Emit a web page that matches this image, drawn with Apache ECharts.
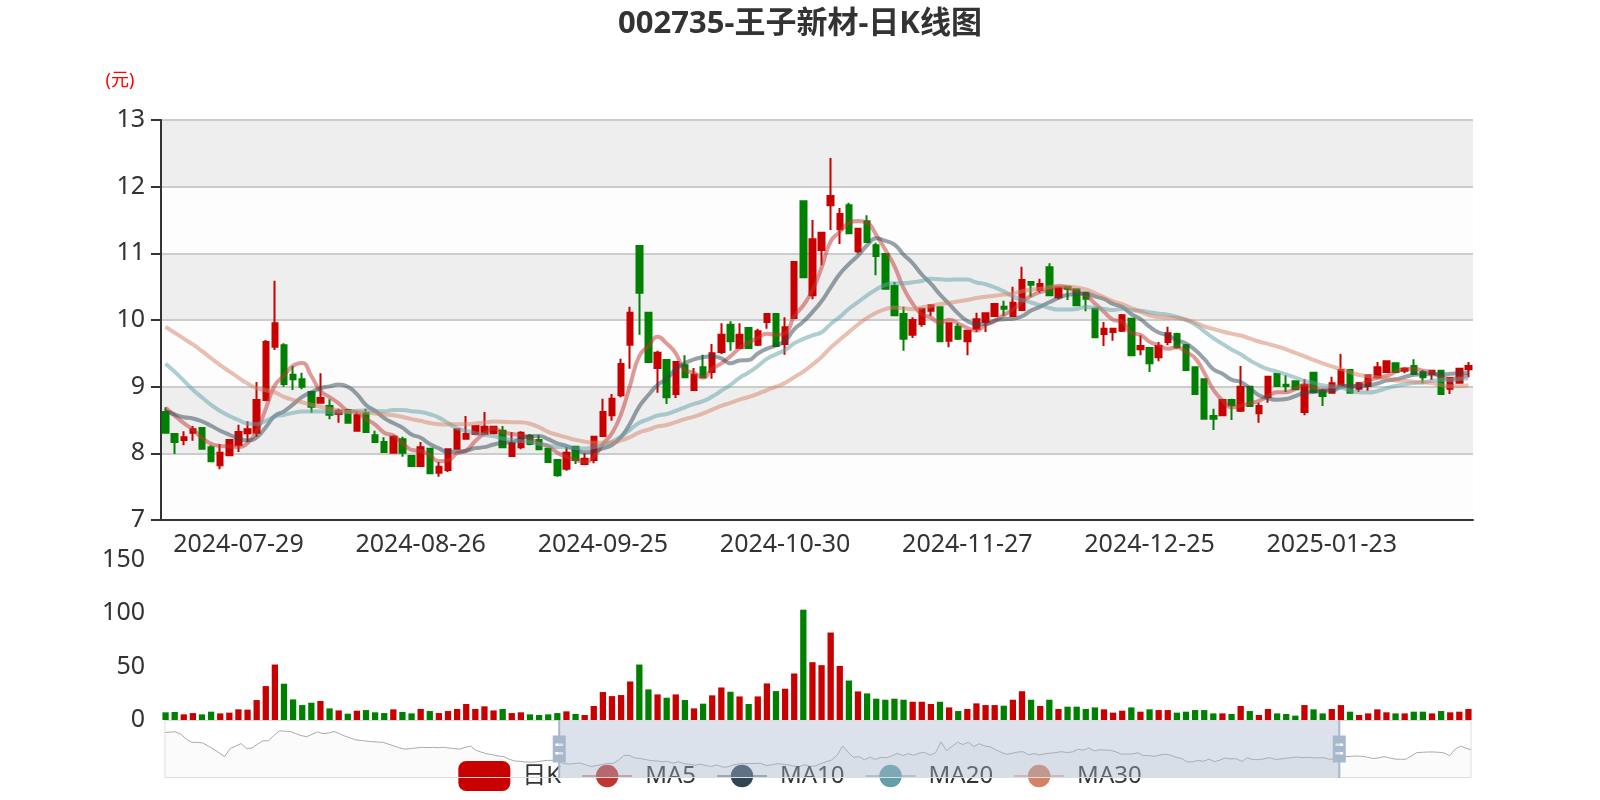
<!DOCTYPE html>
<html><head><meta charset="utf-8">
<script src="https://cdn.jsdelivr.net/npm/echarts@6/dist/echarts.min.js"></script>
<style>html,body{margin:0;padding:0;background:#fff}#c{width:1600px;height:800px}</style>
</head><body><div id="c"></div><script>
const dates = [
'2024-03-29',
'2024-04-01','2024-04-02','2024-04-03','2024-04-08','2024-04-09','2024-04-10','2024-04-11','2024-04-12','2024-04-15','2024-04-16',
'2024-04-17','2024-04-18','2024-04-19','2024-04-22','2024-04-23','2024-04-24','2024-04-25','2024-04-26','2024-04-29','2024-04-30',
'2024-05-06','2024-05-07','2024-05-08','2024-05-09','2024-05-10','2024-05-13','2024-05-14','2024-05-15','2024-05-16','2024-05-17',
'2024-05-20','2024-05-21','2024-05-22','2024-05-23','2024-05-24','2024-05-27','2024-05-28','2024-05-29','2024-05-30','2024-05-31',
'2024-06-03','2024-06-04','2024-06-05','2024-06-06','2024-06-07','2024-06-11','2024-06-12','2024-06-13','2024-06-14','2024-06-17',
'2024-06-18','2024-06-19','2024-06-20','2024-06-21','2024-06-24','2024-06-25','2024-06-26','2024-06-27','2024-06-28',
'2024-07-01','2024-07-02','2024-07-03','2024-07-04','2024-07-05','2024-07-08','2024-07-09','2024-07-10','2024-07-11','2024-07-12',
'2024-07-15','2024-07-16','2024-07-17','2024-07-18','2024-07-19','2024-07-22','2024-07-23','2024-07-24','2024-07-25','2024-07-26',
'2024-07-29','2024-07-30','2024-07-31',
'2024-08-01','2024-08-02','2024-08-05','2024-08-06','2024-08-07','2024-08-08','2024-08-09','2024-08-12','2024-08-13','2024-08-14',
'2024-08-15','2024-08-16','2024-08-19','2024-08-20','2024-08-21','2024-08-22','2024-08-23','2024-08-26','2024-08-27','2024-08-28',
'2024-08-29','2024-08-30',
'2024-09-02','2024-09-03','2024-09-04','2024-09-05','2024-09-06','2024-09-09','2024-09-10','2024-09-11','2024-09-12','2024-09-13',
'2024-09-18','2024-09-19','2024-09-20','2024-09-23','2024-09-24','2024-09-25','2024-09-26','2024-09-27','2024-09-30',
'2024-10-08','2024-10-09','2024-10-10','2024-10-11','2024-10-14','2024-10-15','2024-10-16','2024-10-17','2024-10-18','2024-10-21',
'2024-10-22','2024-10-23','2024-10-24','2024-10-25','2024-10-28','2024-10-29','2024-10-30','2024-10-31',
'2024-11-01','2024-11-04','2024-11-05','2024-11-06','2024-11-07','2024-11-08','2024-11-11','2024-11-12','2024-11-13','2024-11-14',
'2024-11-15','2024-11-18','2024-11-19','2024-11-20','2024-11-21','2024-11-22','2024-11-25','2024-11-26','2024-11-27','2024-11-28',
'2024-11-29',
'2024-12-02','2024-12-03','2024-12-04','2024-12-05','2024-12-06','2024-12-09','2024-12-10','2024-12-11','2024-12-12','2024-12-13',
'2024-12-16','2024-12-17','2024-12-18','2024-12-19','2024-12-20','2024-12-23','2024-12-24','2024-12-25','2024-12-26','2024-12-27',
'2024-12-30','2024-12-31',
'2025-01-02','2025-01-03','2025-01-06','2025-01-07','2025-01-08','2025-01-09','2025-01-10','2025-01-13','2025-01-14','2025-01-15',
'2025-01-16','2025-01-17','2025-01-20','2025-01-21','2025-01-22','2025-01-23','2025-01-24','2025-01-27',
'2025-02-05','2025-02-06','2025-02-07','2025-02-10','2025-02-11','2025-02-12','2025-02-13','2025-02-14','2025-02-17','2025-02-18',
'2025-02-19','2025-02-20','2025-02-21','2025-02-24','2025-02-25','2025-02-26','2025-02-27','2025-02-28',
'2025-03-03','2025-03-04','2025-03-05','2025-03-06','2025-03-07','2025-03-10','2025-03-11','2025-03-12','2025-03-13','2025-03-14',
'2025-03-17','2025-03-18','2025-03-19','2025-03-20','2025-03-21','2025-03-24','2025-03-25','2025-03-26','2025-03-27'
];

// open prices (first 72 and last 24 days only appear in the slider shadow)
const openP = [
13.30,13.35,13.40,13.00,12.20,11.70,11.70,11.60,11.10,10.60,10.00,9.40,10.70,11.10,11.50,10.70,10.80,11.40,11.95,11.95,
12.80,13.55,13.50,13.45,13.10,12.80,12.60,13.00,13.40,13.10,13.20,13.45,13.10,12.70,12.40,12.10,12.00,11.90,11.80,11.75,
11.70,11.40,11.10,10.80,10.60,10.70,10.80,10.90,10.85,10.90,10.85,10.90,10.80,10.70,10.60,10.90,11.10,10.40,10.10,9.85,
9.70,9.50,9.40,9.00,8.70,8.65,8.55,8.50,8.55,8.70,8.80,8.80,
8.62,8.29,8.20,8.31,8.38,8.09,7.82,7.97,8.12,8.30,
8.31,8.80,9.60,9.62,9.18,9.11,8.92,8.76,8.71,8.59,
8.65,8.34,8.60,8.27,8.17,8.01,8.21,7.96,7.81,8.07,
7.71,7.75,8.07,8.22,8.29,8.29,8.30,8.34,7.96,8.09,
8.26,8.20,8.07,7.90,7.77,8.10,7.84,7.90,8.26,8.57,
8.87,9.63,11.11,10.11,9.28,9.40,8.89,9.32,8.95,9.29,
9.22,9.52,9.93,9.58,9.88,9.63,9.97,10.09,9.64,10.03,
11.78,10.37,11.05,11.72,11.36,11.72,11.03,11.48,11.12,10.99,
10.51,10.09,9.78,9.94,10.14,10.19,9.69,9.90,9.68,9.87,
9.97,10.06,10.20,10.06,10.15,10.57,10.45,10.79,10.34,10.50,
10.46,10.41,10.17,9.79,9.82,9.84,10.02,9.56,9.58,9.44,
9.67,9.79,9.62,9.29,9.11,8.56,8.57,8.80,8.64,9.00,
8.60,8.84,9.19,9.03,9.08,8.62,9.21,8.94,8.91,9.02,
9.25,8.97,9.01,9.14,9.22,9.35,9.24,9.31,9.22,9.19,
9.24,8.97,9.06,9.26,
9.40,9.45,9.50,9.45,9.30,9.10,9.20,9.40,9.20,9.00,8.98,8.98,9.50,10.05,10.10,10.15,10.15,10.10,10.00,9.55,
10.60,11.10,10.75,10.50
];
const closeP = [
13.35,13.40,13.00,12.20,11.70,11.70,11.60,11.10,10.60,10.00,9.40,10.70,11.10,11.50,10.70,10.80,11.40,11.95,11.95,12.80,
13.55,13.50,13.45,13.10,12.80,12.60,13.00,13.40,13.10,13.20,13.45,13.10,12.70,12.40,12.10,12.00,11.90,11.80,11.75,11.70,
11.40,11.10,10.80,10.80,10.90,11.00,11.10,11.05,11.10,11.05,11.10,11.00,10.90,10.60,10.90,11.10,10.40,10.10,9.85,9.70,
9.50,9.40,9.00,8.70,8.65,8.55,8.50,8.55,8.75,8.80,8.85,8.70,
8.31,8.17,8.24,8.36,8.07,7.88,8.01,8.20,8.32,8.36,
8.80,9.67,9.95,9.04,9.11,9.00,8.70,8.83,8.58,8.64,
8.46,8.57,8.32,8.17,8.02,8.25,8.01,7.81,8.09,7.70,
7.80,8.06,8.36,8.29,8.41,8.40,8.40,8.09,8.15,8.31,
8.14,8.06,7.87,7.67,8.01,7.90,7.92,8.25,8.62,8.82,
9.34,10.11,10.41,9.37,9.51,8.84,9.37,9.14,9.18,9.14,
9.50,9.78,9.68,9.78,9.58,9.83,10.09,9.61,9.89,10.87,
10.64,11.21,11.31,11.86,11.59,11.30,11.37,11.17,10.96,10.47,
10.07,9.72,10.00,10.17,10.22,9.68,9.95,9.72,9.84,10.01,
10.10,10.24,10.17,10.26,10.60,10.53,10.54,10.37,10.49,10.47,
10.22,10.32,9.74,9.87,9.87,10.07,9.47,9.61,9.35,9.61,
9.80,9.59,9.25,8.89,8.52,8.52,8.80,8.72,9.00,8.71,
8.71,9.15,9.01,9.01,8.96,9.02,8.92,8.86,9.05,9.25,
8.91,9.05,9.17,9.29,9.38,9.22,9.27,9.19,9.14,9.24,
8.89,9.13,9.27,9.31,
9.45,9.50,9.45,9.30,9.10,9.20,9.40,9.20,9.00,8.98,8.98,9.50,10.05,10.10,10.15,10.15,10.10,10.00,9.55,10.60,
11.10,10.75,10.50,10.40
];
const lowP = [
13.10,13.20,12.90,12.10,11.60,11.50,11.45,11.00,10.50,9.90,9.30,9.35,10.60,11.00,10.60,10.50,10.70,11.30,11.70,11.90,
12.70,13.30,13.20,13.00,12.70,12.40,12.50,12.90,13.00,12.95,13.10,13.00,12.60,12.30,12.00,11.90,11.80,11.70,11.60,11.55,
11.30,11.00,10.70,10.70,10.55,10.60,10.70,10.75,10.70,10.75,10.70,10.70,10.60,10.50,10.50,10.80,10.30,10.00,9.75,9.60,
9.40,9.30,8.90,8.60,8.55,8.45,8.40,8.40,8.50,8.60,8.70,8.60,
8.30,7.99,8.12,8.19,8.06,7.87,7.76,7.96,8.02,8.17,
8.25,8.78,9.55,9.00,8.95,8.96,8.61,8.75,8.51,8.46,
8.46,8.33,8.32,8.16,8.01,8.01,7.95,7.80,7.80,7.69,
7.65,7.72,8.07,8.21,8.27,8.27,8.29,8.09,7.96,8.06,
8.12,8.05,7.87,7.65,7.74,7.84,7.82,7.85,8.25,8.49,
8.84,9.27,9.78,9.35,8.91,8.74,8.83,9.14,8.95,9.14,
9.12,9.49,9.54,9.57,9.58,9.61,9.87,9.61,9.48,10.03,
10.64,10.31,10.82,11.35,11.14,11.30,11.00,11.17,10.67,10.47,
10.07,9.54,9.73,9.90,10.06,9.68,9.59,9.70,9.47,9.82,
9.82,10.05,10.06,10.05,10.15,10.35,10.41,10.37,10.31,10.30,
10.22,10.13,9.74,9.61,9.69,9.82,9.47,9.47,9.22,9.38,
9.62,9.57,9.24,8.89,8.52,8.35,8.57,8.50,8.62,8.71,
8.46,8.76,9.00,8.92,8.95,8.57,8.90,8.71,8.91,9.01,
8.91,8.92,8.94,9.12,9.21,9.21,9.20,9.19,9.05,9.10,
8.88,8.89,9.05,9.14,
9.30,9.35,9.35,9.20,9.00,9.00,9.10,9.10,8.90,8.85,8.85,8.95,9.45,9.95,10.00,10.00,10.00,9.90,9.50,9.50,
10.50,10.65,10.40,10.30
];
const highP = [
13.55,13.60,13.50,13.05,12.30,11.90,11.85,11.70,11.20,10.70,10.10,10.75,11.30,11.70,11.60,11.00,11.50,12.10,12.20,12.95,
13.80,13.90,13.70,13.60,13.20,12.90,13.20,13.60,13.55,13.40,13.65,13.60,13.20,12.80,12.50,12.25,12.15,12.00,11.95,11.90,
11.80,11.50,11.20,10.95,11.00,11.10,11.20,11.15,11.20,11.15,11.20,11.10,11.00,10.80,11.00,11.30,11.20,10.50,10.20,9.95,
9.80,9.60,9.45,9.05,8.80,8.75,8.65,8.65,8.85,8.90,8.95,8.90,
8.69,8.29,8.33,8.41,8.39,8.12,8.14,8.20,8.43,8.48,
9.07,9.70,10.59,9.65,9.31,9.21,8.92,9.20,8.81,8.67,
8.65,8.62,8.67,8.34,8.24,8.27,8.25,7.97,8.17,8.07,
7.87,8.07,8.36,8.56,8.41,8.62,8.41,8.41,8.32,8.33,
8.29,8.27,8.08,7.90,8.09,8.11,8.00,8.26,8.82,8.89,
9.42,10.20,11.11,10.11,9.54,9.40,9.37,9.47,9.28,9.48,
9.64,9.95,9.98,9.95,9.88,9.87,10.10,10.09,10.04,10.87,
11.78,11.50,11.31,12.43,11.68,11.76,11.37,11.57,11.16,10.99,
10.57,10.20,10.04,10.17,10.23,10.19,9.95,9.95,9.84,10.11,
10.10,10.25,10.29,10.50,10.80,10.57,10.62,10.85,10.50,10.50,
10.46,10.41,10.17,9.97,9.87,10.09,10.02,9.77,9.58,9.67,
9.90,9.81,9.64,9.29,9.11,8.67,8.80,8.82,9.31,9.00,
8.76,9.15,9.19,9.17,9.08,9.11,9.21,8.97,9.15,9.49,
9.25,9.07,9.17,9.37,9.38,9.36,9.29,9.41,9.25,9.25,
9.25,9.13,9.27,9.37,
9.55,9.60,9.60,9.50,9.35,9.30,9.50,9.45,9.25,9.10,9.10,9.60,10.15,10.25,10.30,10.30,10.25,10.20,10.05,10.70,
11.30,11.20,10.85,10.60
];
// volume (万手); null = outside the shown window, not readable
const volume = [
null,null,null,null,null,null,null,null,null,null,null,null,null,null,null,null,null,null,null,null,
null,null,null,null,null,null,null,null,null,null,null,null,null,null,null,null,null,null,null,null,
null,null,null,null,null,null,null,null,null,null,null,null,null,null,null,null,null,null,null,null,
null,null,null,null,null,null,null,null,null,null,null,null,
7.2,7.5,5.3,6.5,5.3,7.8,6.2,6.9,10.0,9.7,
18.7,31.8,52.0,34.0,19.3,14.0,16.2,17.8,10.9,9.0,
5.9,8.7,9.3,7.2,6.5,10.0,7.5,6.2,10.3,8.4,
6.5,8.4,10.3,15.0,10.3,12.8,9.0,10.3,6.5,7.2,
5.3,4.7,5.3,6.5,8.1,5.6,4.7,13.1,26.2,22.4,
23.4,36.1,52.0,28.7,24.0,20.9,24.0,18.7,10.9,15.3,
23.1,30.5,26.5,22.1,15.0,22.1,34.3,27.1,29.3,43.6,
103.4,54.2,51.4,82.0,50.7,37.0,26.8,24.9,20.0,19.0,
20.0,19.0,17.1,17.1,15.0,17.1,11.8,8.4,10.3,15.6,
14.0,14.0,13.4,19.0,27.0,19.0,13.1,19.0,10.3,12.5,
12.5,10.3,11.8,10.0,6.9,8.7,11.8,7.8,10.0,9.3,
9.3,6.9,7.8,9.3,9.3,6.2,6.2,5.6,13.1,8.4,
4.7,10.3,6.2,5.6,4.1,14.0,10.0,6.2,10.3,14.0,
7.8,4.7,6.2,10.0,7.2,6.2,6.2,7.8,7.8,6.2,
8.4,7.2,7.8,10.3,
null,null,null,null,null,null,null,null,null,null,null,null,null,null,null,null,null,null,null,null,
null,null,null,null
];
const windowStart = '2024-07-17', windowEnd = '2025-02-21';
const priceTicks = { min: 7, max: 13, interval: 1 };
const volTicks = { min: 0, max: 150, interval: 50 };
const maNames = ['MA5', 'MA10', 'MA20', 'MA30'];
const maDays = [5, 10, 20, 30];

const UP = '#c80000', DOWN = '#008000';
const MA_COLORS = ['#c23531', '#2f4554', '#61a0a8', '#d48265'];
const FONT = "'Noto Sans','Noto Sans CJK SC',sans-serif";
// slider handle: thin full-height bar, a block in the middle with two light grip dashes
const HANDLE_ICON = 'path://M-0.7,0h1.4v11.25h-1.4Z M-0.7,30.75h1.4v11.25h-1.4Z ' +
  'M-4.7,11.25h9.4v19.5h-9.4Z M-2.8,17v1.8h5.6v-1.8Z M-2.8,23.2v1.8h5.6v-1.8Z';

function movingAverage(n) {
  const out = [];
  for (let i = 0; i < closeP.length; i++) {
    if (i < n - 1) { out.push('-'); continue; }
    let s = 0;
    for (let j = 0; j < n; j++) s += closeP[i - j];
    out.push(+(s / n).toFixed(3));
  }
  return out;
}
const kData = dates.map((d, i) => [openP[i], closeP[i], lowP[i], highP[i]]);
const volData = volume.map((v, i) => v == null ? '-' : ({ value: v, itemStyle: { color: closeP[i] >= openP[i] ? UP : DOWN } }));

const chart = echarts.init(document.getElementById('c'), null, { renderer: 'canvas' });
const axisText = { fontSize: 25, color: '#333', fontFamily: FONT };
chart.setOption({
  animation: false,
  backgroundColor: '#fff',
  textStyle: { fontFamily: FONT },
  title: { text: '002735-王子新材-日K线图', left: 'center', top: 4,
    textStyle: { fontSize: 31, fontWeight: 'bold', color: '#333', fontFamily: FONT } },
  legend: { data: ['日K'].concat(maNames), left: 'center', top: 756, itemWidth: 50, itemHeight: 28, itemGap: 20,
    textStyle: { fontSize: 24, color: '#333', fontFamily: FONT, padding: [0, 0, 0, 8] } },
  grid: [
    { left: 161, right: 127, top: 120, height: 400 },
    { left: 161, right: 127, top: 560, height: 160 }
  ],
  xAxis: [
    { type: 'category', data: dates, gridIndex: 0, boundaryGap: true,
      axisLine: { onZero: false, lineStyle: { color: '#333', width: 2 } },
      axisTick: { length: 10, lineStyle: { width: 2 }, interval: 19 },
      axisLabel: Object.assign({ margin: 12, interval: 19 }, axisText),
      splitLine: { show: false } },
    { type: 'category', data: dates, gridIndex: 1, boundaryGap: true,
      axisLine: { show: false }, axisTick: { show: false }, axisLabel: { show: false }, splitLine: { show: false } }
  ],
  yAxis: [
    { type: 'value', gridIndex: 0, min: priceTicks.min, max: priceTicks.max, interval: priceTicks.interval,
      name: '(元)', nameLocation: 'end', nameGap: 30,
      nameTextStyle: { color: '#ff0000', fontSize: 18, padding: [0, 82, 0, 0], fontFamily: FONT },
      axisLine: { show: true, lineStyle: { color: '#333', width: 2 } },
      axisTick: { show: true, length: 10, lineStyle: { width: 2 } },
      axisLabel: Object.assign({ margin: 16 }, axisText),
      splitLine: { show: true, lineStyle: { color: '#ccc', width: 2 } },
      splitArea: { show: true, areaStyle: { color: ['rgba(250,250,250,0.3)', 'rgba(200,200,200,0.3)'] } } },
    { type: 'value', gridIndex: 1, min: volTicks.min, max: volTicks.max, interval: volTicks.interval,
      axisLine: { show: false }, axisTick: { show: false },
      axisLabel: Object.assign({ margin: 16 }, axisText),
      splitLine: { show: false } }
  ],
  dataZoom: [
    { type: 'slider', xAxisIndex: [0, 1], startValue: windowStart, endValue: windowEnd,
      top: 720, height: 58, left: 162, right: 131, showDetail: false, brushSelect: false, moveHandleSize: 0,
      borderColor: '#ddd', backgroundColor: 'rgba(47,69,84,0)', fillerColor: 'rgba(167,183,204,0.4)',
      dataBackground: { lineStyle: { color: '#aaa', width: 1 }, areaStyle: { color: 'rgba(220,222,226,0.6)' } },
      selectedDataBackground: { lineStyle: { color: '#aaa', width: 1 }, areaStyle: { color: 'rgba(200,205,215,0.5)' } },
      handleIcon: HANDLE_ICON, handleSize: '100%',
      handleStyle: { color: '#a7b7cc', borderWidth: 0 } }
  ],
  series: [
    { name: '日K', type: 'candlestick', data: kData, xAxisIndex: 0, yAxisIndex: 0, barWidth: 6,
      itemStyle: { color: UP, color0: DOWN, borderColor: UP, borderColor0: DOWN, borderWidth: 2 } }
  ].concat(maNames.map((n, k) => ({
    name: n, type: 'line', data: movingAverage(maDays[k]), xAxisIndex: 0, yAxisIndex: 0,
    smooth: true, symbol: 'circle', showSymbol: false,
    itemStyle: { color: MA_COLORS[k] }, lineStyle: { width: 4, opacity: 0.5, color: MA_COLORS[k] }
  }))).concat([
    { name: '成交量', type: 'bar', data: volData, xAxisIndex: 1, yAxisIndex: 1 }
  ])
});
</script></body></html>
